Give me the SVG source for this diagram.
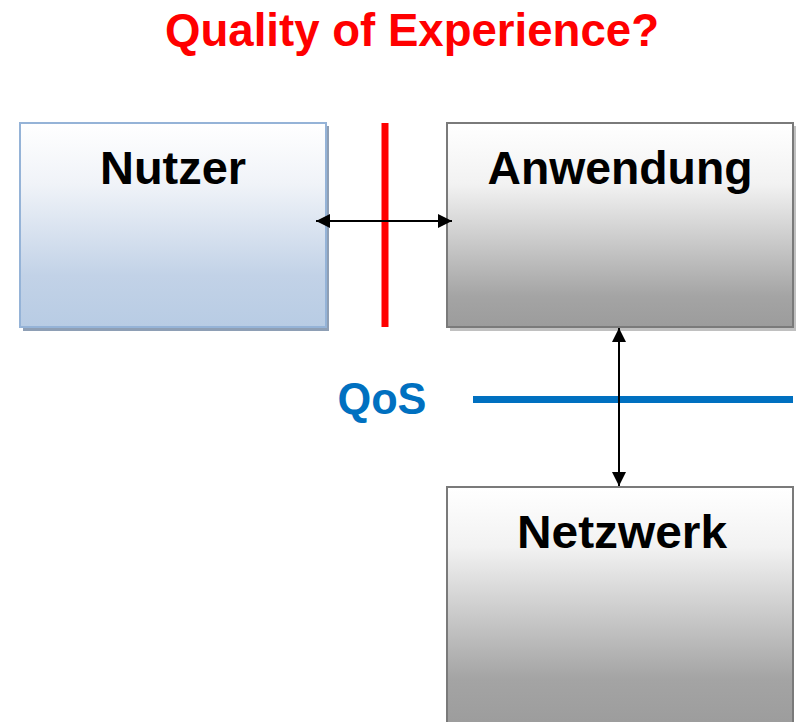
<svg xmlns="http://www.w3.org/2000/svg" width="796" height="722" viewBox="0 0 796 722">
<defs>
<linearGradient id="gBlue" x1="0" y1="0" x2="0" y2="1">
<stop offset="0" stop-color="#ffffff"/>
<stop offset="0.3" stop-color="#f0f3f8"/>
<stop offset="0.75" stop-color="#c2d2e7"/>
<stop offset="1" stop-color="#b8cce4"/>
</linearGradient>
<linearGradient id="gGray" x1="0" y1="0" x2="0" y2="1">
<stop offset="0" stop-color="#ffffff"/>
<stop offset="0.3" stop-color="#f2f2f2"/>
<stop offset="0.85" stop-color="#a4a4a4"/>
<stop offset="1" stop-color="#9c9c9c"/>
</linearGradient>
<linearGradient id="gGray2" x1="0" y1="0" x2="0" y2="1">
<stop offset="0" stop-color="#ffffff"/>
<stop offset="0.25" stop-color="#f2f2f2"/>
<stop offset="0.8" stop-color="#a4a4a4"/>
<stop offset="1" stop-color="#9c9c9c"/>
</linearGradient>
<marker id="ah" viewBox="0 0 10 10" refX="10" refY="5" markerWidth="14" markerHeight="14" markerUnits="userSpaceOnUse" orient="auto-start-reverse">
<path d="M0,0 L10,5 L0,10 z" fill="#000"/>
</marker>
<style>
.lbl{font-family:"Liberation Sans","DejaVu Sans",sans-serif;font-weight:bold;font-size:46px;fill:#000;text-anchor:middle}
</style>
</defs>
<text x="412" y="46" font-family="Liberation Sans, sans-serif" font-weight="bold" font-size="46" fill="#ff0000" text-anchor="middle" textLength="494" lengthAdjust="spacingAndGlyphs">Quality of Experience?</text>
<g id="nutzer">
<rect x="23" y="126" width="306" height="205" fill="#8e9fb5"/>
<rect x="20" y="123" width="306" height="204" fill="url(#gBlue)" stroke="#95b3d7" stroke-width="2"/>
<text class="lbl" x="173" y="184" textLength="146" lengthAdjust="spacingAndGlyphs">Nutzer</text>
</g>
<g id="anwendung">
<rect x="450" y="126" width="346" height="205" fill="#c0c0c0"/>
<rect x="447" y="123" width="346" height="204" fill="url(#gGray)" stroke="#7a7a7a" stroke-width="2"/>
<text class="lbl" x="620" y="184" textLength="265" lengthAdjust="spacingAndGlyphs">Anwendung</text>
</g>
<g id="netzwerk">
<rect x="447" y="487" width="346" height="240" fill="url(#gGray2)" stroke="#7a7a7a" stroke-width="2"/>
<text class="lbl" x="622" y="548" textLength="210" lengthAdjust="spacingAndGlyphs">Netzwerk</text>
</g>
<g id="qos">
<text x="382" y="414" font-family="Liberation Sans, sans-serif" font-weight="bold" font-size="44" fill="#0070c0" text-anchor="middle" textLength="89" lengthAdjust="spacingAndGlyphs">QoS</text>
<line x1="473" y1="399.5" x2="793" y2="399.5" stroke="#0070c0" stroke-width="7"/>
</g>
<g id="qoe-line">
<line x1="385" y1="123" x2="385" y2="327" stroke="#ff0000" stroke-width="7"/>
</g>
<g id="connectors">
<line x1="316" y1="221" x2="452" y2="221" stroke="#000" stroke-width="2" marker-start="url(#ah)" marker-end="url(#ah)"/>
<line x1="619" y1="328" x2="619" y2="486" stroke="#000" stroke-width="2" marker-start="url(#ah)" marker-end="url(#ah)"/>
</g>
</svg>
